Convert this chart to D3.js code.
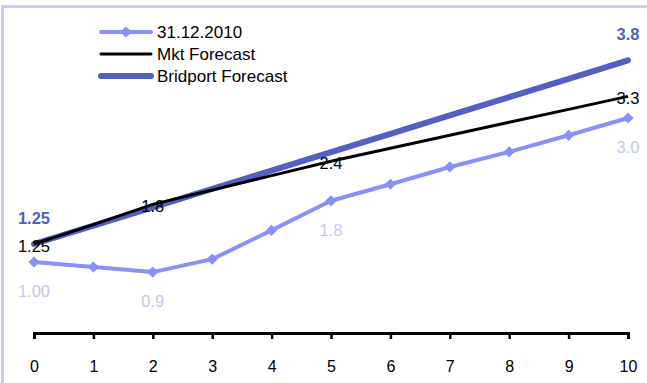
<!DOCTYPE html>
<html>
<head>
<meta charset="utf-8">
<script src="https://cdn.jsdelivr.net/npm/d3@7"></script>
<style>
  html, body { margin: 0; padding: 0; background: #fff; }
  svg { display: block; font-family: "Liberation Sans", Arial, sans-serif; }
</style>
</head>
<body>
<svg id="chart" width="647" height="383"></svg>
<script>
// Years ahead on the x axis
const years = [0, 1, 2, 3, 4, 5, 6, 7, 8, 9, 10];
// Curve as of 31.12.2010
const curve2010 = [1.00, 0.93, 0.86, 1.04, 1.44, 1.85, 2.08, 2.32, 2.53, 2.76, 3.00];
// Market forecast
const mktForecast = [1.25, 1.52, 1.80, 2.00, 2.20, 2.40, 2.58, 2.76, 2.94, 3.12, 3.30];
// Bridport forecast
const bridportForecast = [1.25, 1.505, 1.76, 2.015, 2.27, 2.525, 2.78, 3.035, 3.29, 3.545, 3.80];

// Value labels shown on the chart: [index, text]
const curveLabels = [[0, "1.00"], [2, "0.9"], [5, "1.8"], [10, "3.0"]];
const mktLabels = [[0, "1.25"], [2, "1.8"], [5, "2.4"], [10, "3.3"]];
const bridportLabels = [[0, "1.25"], [10, "3.8"]];

const legendNames = ["31.12.2010", "Mkt Forecast", "Bridport Forecast"];

const colLight = "#8890fa";
const colLightLabel = "#c3c7ee";
const colBridport = "#5260c2";
const colMkt = "#000000";

const svg = d3.select("#chart");

// Outer frame
svg.append("rect")
  .attr("x", 2.5).attr("y", 6.5)
  .attr("width", 660).attr("height", 400)
  .attr("fill", "none")
  .attr("stroke", "#c8ccf8")
  .attr("stroke-width", 3);

const x = d3.scaleLinear().domain([0, 10]).range([34, 628]);
const y = d3.scaleLinear().domain([0, 4]).range([334, 46]);

// X axis
const axisY = 333;
const axis = svg.append("g").attr("transform", `translate(0,${axisY})`);
axis.call(d3.axisBottom(x).tickValues(years).tickSize(6).tickSizeOuter(6).tickPadding(22).tickFormat(d3.format("d")));
axis.select(".domain").attr("stroke", "#000").attr("stroke-width", 3);
axis.selectAll(".tick line").attr("stroke", "#000").attr("stroke-width", 2.5);
axis.selectAll(".tick text").attr("font-size", 16).attr("fill", "#000")
  .attr("font-family", "Liberation Sans, Arial, sans-serif");

const line = d3.line().x((d, i) => x(years[i])).y(d => y(d));

// 31.12.2010 curve with diamond markers
svg.append("path").datum(curve2010)
  .attr("d", line).attr("fill", "none")
  .attr("stroke", colLight).attr("stroke-width", 4)
  .attr("stroke-linejoin", "round");
const diamond = d3.symbol().type(d3.symbolDiamond2).size(80);
svg.selectAll(".mk").data(curve2010).enter().append("path")
  .attr("d", diamond)
  .attr("transform", (d, i) => `translate(${x(years[i])},${y(d)})`)
  .attr("fill", colLight);

// Bridport forecast
svg.append("path").datum(bridportForecast)
  .attr("d", line).attr("fill", "none")
  .attr("stroke", colBridport).attr("stroke-width", 6)
  .attr("stroke-linecap", "round");

// Market forecast
svg.append("path").datum(mktForecast)
  .attr("d", line).attr("fill", "none")
  .attr("stroke", colMkt).attr("stroke-width", 3);

// Value labels
const lbl = svg.append("g").attr("font-size", 16.5);
lbl.selectAll(".lc").data(curveLabels).enter().append("text")
  .attr("x", d => x(years[d[0]]))
  .attr("y", d => y(curve2010[d[0]]) + 29)
  .attr("text-anchor", "middle").attr("dominant-baseline", "central")
  .attr("fill", colLightLabel).text(d => d[1]);
lbl.selectAll(".lm").data(mktLabels).enter().append("text")
  .attr("x", d => x(years[d[0]]))
  .attr("y", d => y(mktForecast[d[0]]) + 2)
  .attr("text-anchor", "middle").attr("dominant-baseline", "central")
  .attr("fill", "#000").text(d => d[1]);
lbl.selectAll(".lb").data(bridportLabels).enter().append("text")
  .attr("x", d => x(years[d[0]]))
  .attr("y", d => y(bridportForecast[d[0]]) - 26)
  .attr("text-anchor", "middle").attr("dominant-baseline", "central")
  .attr("font-weight", "bold")
  .attr("fill", colBridport).text(d => d[1]);

// Legend
const leg = svg.append("g");
const rows = [
  { name: legendNames[0], color: colLight, w: 4, marker: true },
  { name: legendNames[1], color: colMkt, w: 3, marker: false },
  { name: legendNames[2], color: colBridport, w: 6, marker: false }
];
rows.forEach((r, i) => {
  const ly = 32 + i * 22;
  leg.append("line")
    .attr("x1", 101).attr("x2", 151).attr("y1", ly).attr("y2", ly)
    .attr("stroke", r.color).attr("stroke-width", r.w)
    .attr("stroke-linecap", "round");
  if (r.marker) {
    leg.append("path").attr("d", diamond)
      .attr("transform", `translate(126,${ly})`).attr("fill", r.color);
  }
  leg.append("text")
    .attr("x", 157).attr("y", ly)
    .attr("dominant-baseline", "central")
    .attr("font-size", 17).attr("fill", "#000")
    .text(r.name);
});
</script>
</body>
</html>
